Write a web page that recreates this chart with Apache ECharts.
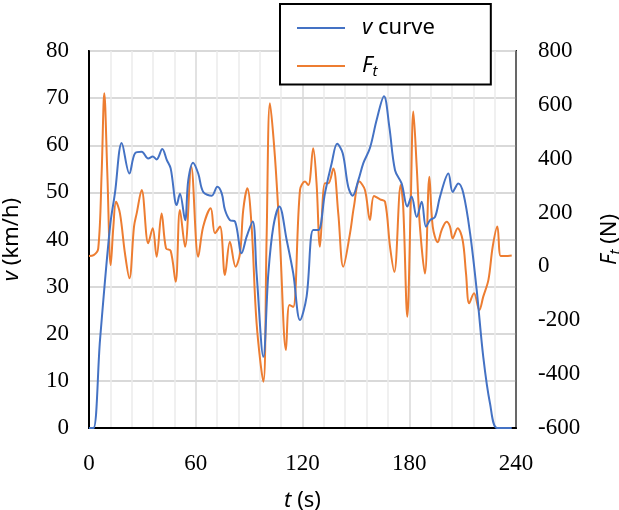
<!DOCTYPE html>
<html><head><meta charset="utf-8">
<script src="https://cdn.jsdelivr.net/npm/echarts@6/dist/echarts.min.js"></script>
<style>html,body{margin:0;padding:0;background:#fff}#c{width:619px;height:510px}</style>
</head><body><div id="c"></div>
<script>
// v curve (km/h) vs t (s)
const tV = [0,2.5,6.2,11.8,14.6,18.4,22.7,25.9,29.6,33.3,35.8,38,41.2,43.7,45.9,49.3,51.1,54,55.8,58.5,61.4,64.2,69,72.1,74.6,76.4,79.2,82.1,85.8,88.6,92,94.2,98,100.8,103.6,107,111.1,114.8,118.6,122.3,126,128.9,132.6,136.4,139.5,142.6,145.7,148.2,151.4,154.2,157.9,161.7,165.8,168.8,172,175.7,178.9,181.3,184.2,187,189.4,191.7,194.5,197.3,202,204.4,207.6,210.4,214.2,217.9,221.6,225.4,229.5,237.6];
const vVals = [0,0,18.7,42.7,49.9,60.5,54,58.3,58.6,57.2,57.6,57,59.2,56.9,55.1,47.3,49.7,44.1,52.6,56.3,54,50.1,49.3,51.2,49.8,46.3,44.1,43.8,37.1,40.6,43.8,32.8,15.1,32.8,42.7,47,39.9,32.8,22.9,27.9,42,42,49.8,56.2,60.3,58.3,51.2,49.3,52.6,56.2,59.4,65.4,70.4,63.9,54.7,51.9,47,49.1,44.8,48,42.7,44.1,44.8,49.1,54,50.1,51.9,49.8,41.3,29.3,15.1,5.2,0,0];
// F_t (N) vs t (s)
const tF = [0,2.6,5.2,7.1,8.6,10.3,12.2,13.7,15.2,17.4,20.2,22.7,25.3,26.8,29.6,33.3,35.8,38,40.8,43.3,45.9,48.7,51.1,54,57.5,61.4,64.2,68.4,70.8,73.6,76.4,79.2,82.4,84.9,86.7,89,91.4,94.2,98,99.8,101.7,104.5,107.3,110.7,112.6,114.8,118.6,121.4,123.3,126,127.9,129.8,132.6,134.5,137.3,140.1,142.9,146.7,148.9,151.9,155.1,157.9,160.2,163.6,166.4,169.2,171.6,175.2,176.6,178.9,180.8,182.3,184.2,186,188.8,191.3,193.2,196,198.2,201,202.9,204.4,207.2,210,211.9,213.7,216.4,219.4,221.6,224.5,226.9,229.5,231.4,233.8,237.6];
const fVals = [39,42,67,346,643,346,5,148,240,197,49,-44,148,197,284,86,142,36,197,67,58,-57,210,73,370,36,148,216,123,148,-32,92,-1,49,210,290,148,-211,-428,98,606,408,98,-310,-143,-150,284,315,302,439,309,73,309,309,364,197,-1,123,222,315,284,172,262,249,240,73,-20,302,222,-187,222,575,370,148,-26,333,148,90,135,166,148,104,142,98,-26,-137,-100,-162,-112,-50,73,148,39,39,41];
const xTicks = [0,60,120,180,240];
const vTicks = [0,10,20,30,40,50,60,70,80];
const fTicks = [-600,-400,-200,0,200,400,600,800];

const chart = echarts.init(document.getElementById('c'));
const serif = 'Liberation Serif';
const sans = 'Noto Sans';
const T = 22;
chart.setOption({
  animation: false,
  backgroundColor: '#fff',
  grid: {left: 89, right: 103, top: 51, bottom: 82, containLabel: false, outerBoundsMode: 'none',
         show: true, borderColor: '#000', borderWidth: 2, backgroundColor: 'transparent'},
  legend: {
    orient: 'vertical', left: 280, top: 4,
    icon: 'rect', itemWidth: 48, itemHeight: 2, itemGap: 16,
    backgroundColor: '#fff', borderColor: '#000', borderWidth: 2,
    padding: [13, 56, 5, 17],
    data: ['v curve', 'Ft'],
    formatter: function (n) { return n === 'v curve' ? '{i|v}{r| curve}' : '{i|F}{s|t}'; },
    textStyle: {
      fontFamily: sans, fontSize: T, color: '#000', padding: [0, 0, 0, 12],
      rich: {
        i: {fontFamily: sans, fontSize: T, fontStyle: 'italic', color: '#000', lineHeight: 30},
        r: {fontFamily: sans, fontSize: T, color: '#000', lineHeight: 30},
        s: {fontFamily: sans, fontSize: 15, fontStyle: 'italic', color: '#000', padding: [12, 0, 0, 0]}
      }
    }
  },
  xAxis: {
    type: 'value', min: xTicks[0], max: xTicks[xTicks.length - 1], interval: 60,
    axisLine: {show: true, lineStyle: {color: '#000', width: 2}},
    axisTick: {show: false},
    axisLabel: {fontFamily: serif, fontSize: 23, color: '#000', margin: 24},
    splitLine: {show: true, lineStyle: {color: '#d9d9d9', width: 1.5}},
    minorTick: {show: false, splitNumber: 5},
    minorSplitLine: {show: true, lineStyle: {color: '#ececec', width: 1.5}},
    name: '{i|t}{r| (s)}', nameLocation: 'middle', nameGap: 62,
    nameTextStyle: {rich: {
      i: {fontFamily: sans, fontSize: T, fontStyle: 'italic', color: '#000'},
      r: {fontFamily: sans, fontSize: T, color: '#000'}}}
  },
  yAxis: [{
    type: 'value', min: vTicks[0], max: vTicks[vTicks.length - 1], interval: 10,
    axisLine: {show: true, lineStyle: {color: '#000', width: 2}},
    axisTick: {show: false},
    axisLabel: {fontFamily: serif, fontSize: 23, color: '#000', margin: 20},
    splitLine: {show: true, lineStyle: {color: '#d9d9d9', width: 2}},
    name: '{i|v}{r| (km/h)}', nameLocation: 'middle', nameGap: 66, nameRotate: 90,
    nameTextStyle: {rich: {
      i: {fontFamily: sans, fontSize: T, fontStyle: 'italic', color: '#000'},
      r: {fontFamily: sans, fontSize: T, color: '#000'}}}
  }, {
    type: 'value', min: fTicks[0], max: fTicks[fTicks.length - 1], interval: 200,
    position: 'right',
    axisLine: {show: true, lineStyle: {color: '#555', width: 1.5}},
    axisTick: {show: false},
    axisLabel: {fontFamily: serif, fontSize: 23, color: '#000', margin: 22},
    splitLine: {show: false},
    name: '{i|F}{s|t}{r| (N)}', nameLocation: 'middle', nameGap: 80, nameRotate: 90,
    nameTextStyle: {rich: {
      i: {fontFamily: sans, fontSize: T, fontStyle: 'italic', color: '#000'},
      s: {fontFamily: sans, fontSize: 15, fontStyle: 'italic', color: '#000', padding: [12, 0, 0, 0]},
      r: {fontFamily: sans, fontSize: T, color: '#000'}}}
  }],
  series: [{
    name: 'v curve', type: 'line', yAxisIndex: 0, showSymbol: false, symbol: 'none', smooth: 0.35,
    lineStyle: {color: '#4472C4', width: 2}, itemStyle: {color: '#4472C4'},
    data: tV.map((t, i) => [t, vVals[i]]), z: 3
  }, {
    name: 'Ft', type: 'line', yAxisIndex: 1, showSymbol: false, symbol: 'none', smooth: 0.35,
    lineStyle: {color: '#ED7D31', width: 2}, itemStyle: {color: '#ED7D31'},
    data: tF.map((t, i) => [t, fVals[i]]), z: 2
  }]
});
</script></body></html>
